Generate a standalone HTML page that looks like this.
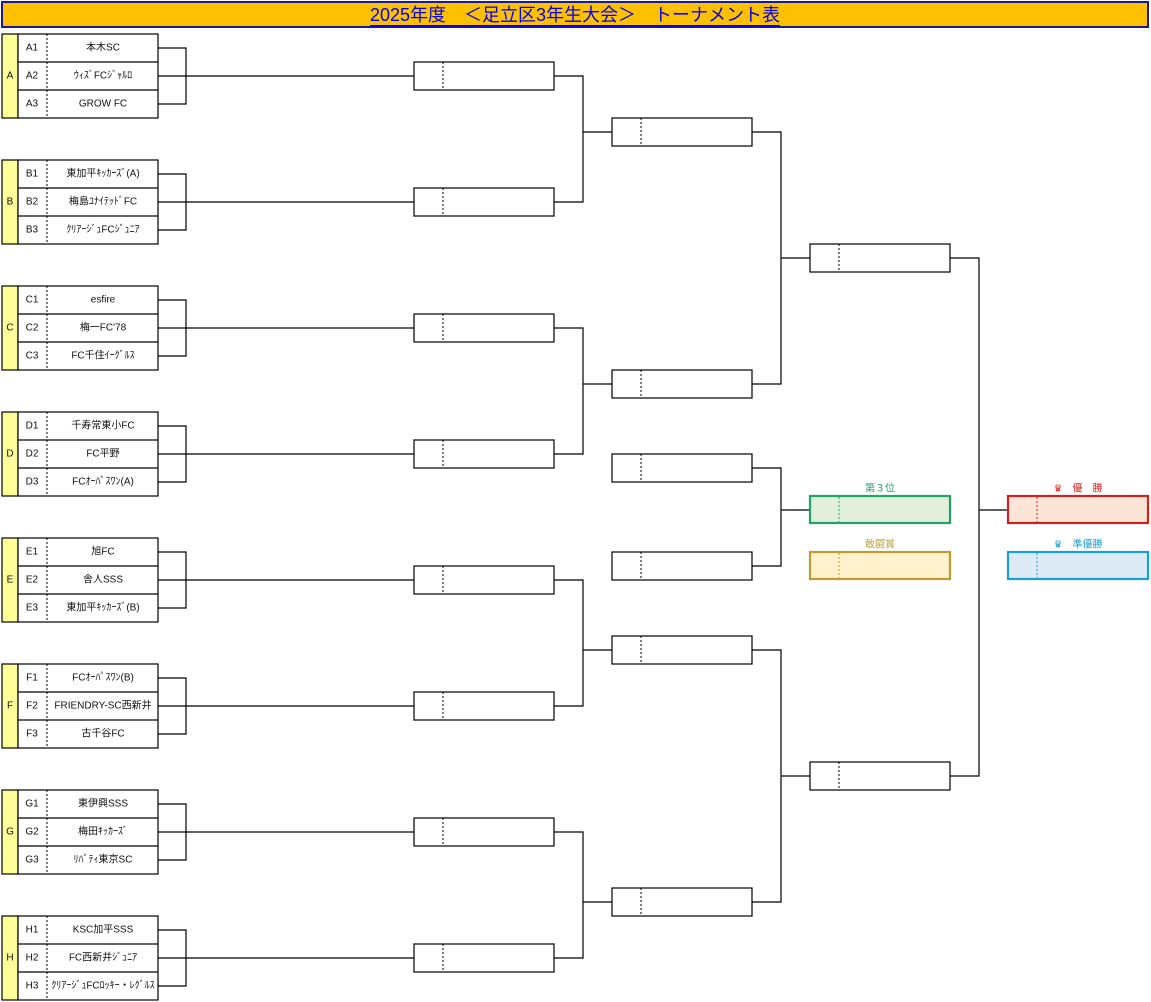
<!DOCTYPE html>
<html><head><meta charset="utf-8"><style>
body{margin:0;background:#fff;width:1151px;height:1002px;overflow:hidden}
svg{display:block;font-family:"Liberation Sans","Noto Sans CJK JP",sans-serif}
.t{font-size:10px;fill:#111;text-anchor:middle;dominant-baseline:central}
.ln{stroke:#000;stroke-width:1.2;fill:none}
.bx{fill:#fff;stroke:#000;stroke-width:1.2}
.dt{stroke:#000;stroke-width:1;stroke-dasharray:2,2}
</style></head><body>
<svg width="1151" height="1002" viewBox="0 0 1151 1002">
<rect x="2" y="2" width="1146" height="25" fill="#ffc000" stroke="#1a1a8c" stroke-width="2"/>
<text x="575" y="15" font-size="18" fill="#0000ee" text-anchor="middle" dominant-baseline="central" text-decoration="underline">2025年度　＜足立区3年生大会＞　トーナメント表</text>

<!-- group template -->
<g id="groups">
<!-- A y0=34 -->
<g transform="translate(0,34)">
<rect x="2" y="0" width="16" height="84" fill="#ffff99" stroke="#000" stroke-width="1.2"/>
<rect x="18" y="0" width="140" height="84" fill="#fff" stroke="#000" stroke-width="1.2"/>
<line x1="18" y1="28" x2="158" y2="28" class="ln"/><line x1="18" y1="56" x2="158" y2="56" class="ln"/>
<line x1="47" y1="0" x2="47" y2="84" class="dt"/>
<text class="t" x="10" y="42">A</text><text class="t" x="32" y="14">A1</text><text class="t" x="32" y="42">A2</text><text class="t" x="32" y="70">A3</text>
<text class="t" x="103" y="14">本木SC</text><text class="t" x="103" y="42">ｳｨｽﾞFCｼﾞｬﾙﾛ</text><text class="t" x="103" y="70">GROW FC</text>
<path class="ln" d="M158 14H186V70H158M158 42H414"/>
<rect class="bx" x="414" y="28" width="140" height="28"/><line class="dt" x1="443" y1="28" x2="443" y2="56"/>
</g>
<g transform="translate(0,160)">
<rect x="2" y="0" width="16" height="84" fill="#ffff99" stroke="#000" stroke-width="1.2"/>
<rect x="18" y="0" width="140" height="84" fill="#fff" stroke="#000" stroke-width="1.2"/>
<line x1="18" y1="28" x2="158" y2="28" class="ln"/><line x1="18" y1="56" x2="158" y2="56" class="ln"/>
<line x1="47" y1="0" x2="47" y2="84" class="dt"/>
<text class="t" x="10" y="42">B</text><text class="t" x="32" y="14">B1</text><text class="t" x="32" y="42">B2</text><text class="t" x="32" y="70">B3</text>
<text class="t" x="103" y="14">東加平ｷｯｶｰｽﾞ(A)</text><text class="t" x="103" y="42">梅島ﾕﾅｲﾃｯﾄﾞFC</text><text class="t" x="103" y="70" font-size="9">ｸﾘｱｰｼﾞｭFCｼﾞｭﾆｱ</text>
<path class="ln" d="M158 14H186V70H158M158 42H414"/>
<rect class="bx" x="414" y="28" width="140" height="28"/><line class="dt" x1="443" y1="28" x2="443" y2="56"/>
</g>
<g transform="translate(0,286)">
<rect x="2" y="0" width="16" height="84" fill="#ffff99" stroke="#000" stroke-width="1.2"/>
<rect x="18" y="0" width="140" height="84" fill="#fff" stroke="#000" stroke-width="1.2"/>
<line x1="18" y1="28" x2="158" y2="28" class="ln"/><line x1="18" y1="56" x2="158" y2="56" class="ln"/>
<line x1="47" y1="0" x2="47" y2="84" class="dt"/>
<text class="t" x="10" y="42">C</text><text class="t" x="32" y="14">C1</text><text class="t" x="32" y="42">C2</text><text class="t" x="32" y="70">C3</text>
<text class="t" x="103" y="14">esfire</text><text class="t" x="103" y="42">梅一FC'78</text><text class="t" x="103" y="70">FC千住ｲｰｸﾞﾙｽ</text>
<path class="ln" d="M158 14H186V70H158M158 42H414"/>
<rect class="bx" x="414" y="28" width="140" height="28"/><line class="dt" x1="443" y1="28" x2="443" y2="56"/>
</g>
<g transform="translate(0,412)">
<rect x="2" y="0" width="16" height="84" fill="#ffff99" stroke="#000" stroke-width="1.2"/>
<rect x="18" y="0" width="140" height="84" fill="#fff" stroke="#000" stroke-width="1.2"/>
<line x1="18" y1="28" x2="158" y2="28" class="ln"/><line x1="18" y1="56" x2="158" y2="56" class="ln"/>
<line x1="47" y1="0" x2="47" y2="84" class="dt"/>
<text class="t" x="10" y="42">D</text><text class="t" x="32" y="14">D1</text><text class="t" x="32" y="42">D2</text><text class="t" x="32" y="70">D3</text>
<text class="t" x="103" y="14">千寿常東小FC</text><text class="t" x="103" y="42">FC平野</text><text class="t" x="103" y="70">FCｵｰﾊﾟｽﾜﾝ(A)</text>
<path class="ln" d="M158 14H186V70H158M158 42H414"/>
<rect class="bx" x="414" y="28" width="140" height="28"/><line class="dt" x1="443" y1="28" x2="443" y2="56"/>
</g>
<g transform="translate(0,538)">
<rect x="2" y="0" width="16" height="84" fill="#ffff99" stroke="#000" stroke-width="1.2"/>
<rect x="18" y="0" width="140" height="84" fill="#fff" stroke="#000" stroke-width="1.2"/>
<line x1="18" y1="28" x2="158" y2="28" class="ln"/><line x1="18" y1="56" x2="158" y2="56" class="ln"/>
<line x1="47" y1="0" x2="47" y2="84" class="dt"/>
<text class="t" x="10" y="42">E</text><text class="t" x="32" y="14">E1</text><text class="t" x="32" y="42">E2</text><text class="t" x="32" y="70">E3</text>
<text class="t" x="103" y="14">旭FC</text><text class="t" x="103" y="42">舎人SSS</text><text class="t" x="103" y="70">東加平ｷｯｶｰｽﾞ(B)</text>
<path class="ln" d="M158 14H186V70H158M158 42H414"/>
<rect class="bx" x="414" y="28" width="140" height="28"/><line class="dt" x1="443" y1="28" x2="443" y2="56"/>
</g>
<g transform="translate(0,664)">
<rect x="2" y="0" width="16" height="84" fill="#ffff99" stroke="#000" stroke-width="1.2"/>
<rect x="18" y="0" width="140" height="84" fill="#fff" stroke="#000" stroke-width="1.2"/>
<line x1="18" y1="28" x2="158" y2="28" class="ln"/><line x1="18" y1="56" x2="158" y2="56" class="ln"/>
<line x1="47" y1="0" x2="47" y2="84" class="dt"/>
<text class="t" x="10" y="42">F</text><text class="t" x="32" y="14">F1</text><text class="t" x="32" y="42">F2</text><text class="t" x="32" y="70">F3</text>
<text class="t" x="103" y="14">FCｵｰﾊﾟｽﾜﾝ(B)</text><text class="t" x="103" y="42" font-size="9.5">FRIENDRY-SC西新井</text><text class="t" x="103" y="70">古千谷FC</text>
<path class="ln" d="M158 14H186V70H158M158 42H414"/>
<rect class="bx" x="414" y="28" width="140" height="28"/><line class="dt" x1="443" y1="28" x2="443" y2="56"/>
</g>
<g transform="translate(0,790)">
<rect x="2" y="0" width="16" height="84" fill="#ffff99" stroke="#000" stroke-width="1.2"/>
<rect x="18" y="0" width="140" height="84" fill="#fff" stroke="#000" stroke-width="1.2"/>
<line x1="18" y1="28" x2="158" y2="28" class="ln"/><line x1="18" y1="56" x2="158" y2="56" class="ln"/>
<line x1="47" y1="0" x2="47" y2="84" class="dt"/>
<text class="t" x="10" y="42">G</text><text class="t" x="32" y="14">G1</text><text class="t" x="32" y="42">G2</text><text class="t" x="32" y="70">G3</text>
<text class="t" x="103" y="14">東伊興SSS</text><text class="t" x="103" y="42">梅田ｷｯｶｰｽﾞ</text><text class="t" x="103" y="70">ﾘﾊﾞﾃｨ東京SC</text>
<path class="ln" d="M158 14H186V70H158M158 42H414"/>
<rect class="bx" x="414" y="28" width="140" height="28"/><line class="dt" x1="443" y1="28" x2="443" y2="56"/>
</g>
<g transform="translate(0,916)">
<rect x="2" y="0" width="16" height="84" fill="#ffff99" stroke="#000" stroke-width="1.2"/>
<rect x="18" y="0" width="140" height="84" fill="#fff" stroke="#000" stroke-width="1.2"/>
<line x1="18" y1="28" x2="158" y2="28" class="ln"/><line x1="18" y1="56" x2="158" y2="56" class="ln"/>
<line x1="47" y1="0" x2="47" y2="84" class="dt"/>
<text class="t" x="10" y="42">H</text><text class="t" x="32" y="14">H1</text><text class="t" x="32" y="42">H2</text><text class="t" x="32" y="70">H3</text>
<text class="t" x="103" y="14">KSC加平SSS</text><text class="t" x="103" y="42">FC西新井ｼﾞｭﾆｱ</text><text class="t" x="103" y="70" font-size="8.5">ｸﾘｱｰｼﾞｭFCﾛｯｷｰ・ﾚｸﾞﾙｽ</text>
<path class="ln" d="M158 14H186V70H158M158 42H414"/>
<rect class="bx" x="414" y="28" width="140" height="28"/><line class="dt" x1="443" y1="28" x2="443" y2="56"/>
</g>
</g>

<!-- round 2 connectors -->
<path class="ln" d="M554 76H583V202H554M583 132H612"/>
<path class="ln" d="M554 328H583V454H554M583 384H612"/>
<path class="ln" d="M554 580H583V706H554M583 650H612"/>
<path class="ln" d="M554 832H583V958H554M583 902H612"/>
<!-- round 2 boxes -->
<rect class="bx" x="612" y="118" width="140" height="28"/><line class="dt" x1="641" y1="118" x2="641" y2="146"/>
<rect class="bx" x="612" y="370" width="140" height="28"/><line class="dt" x1="641" y1="370" x2="641" y2="398"/>
<rect class="bx" x="612" y="636" width="140" height="28"/><line class="dt" x1="641" y1="636" x2="641" y2="664"/>
<rect class="bx" x="612" y="888" width="140" height="28"/><line class="dt" x1="641" y1="888" x2="641" y2="916"/>
<!-- 3rd place semis -->
<rect class="bx" x="612" y="454" width="140" height="28"/><line class="dt" x1="641" y1="454" x2="641" y2="482"/>
<rect class="bx" x="612" y="552" width="140" height="28"/><line class="dt" x1="641" y1="552" x2="641" y2="580"/>
<path class="ln" d="M752 468H781V566H752M781 510H810"/>
<!-- round 3 -->
<path class="ln" d="M752 132H781V384H752M781 258H810"/>
<path class="ln" d="M752 650H781V902H752M781 776H810"/>
<rect class="bx" x="810" y="244" width="140" height="28"/><line class="dt" x1="839" y1="244" x2="839" y2="272"/>
<rect class="bx" x="810" y="762" width="140" height="28"/><line class="dt" x1="839" y1="762" x2="839" y2="790"/>
<path class="ln" d="M950 258H979V776H950M979 510H1008"/>

<!-- awards -->
<text x="880" y="489" font-size="10" fill="#21a366" text-anchor="middle" dominant-baseline="central">第３位</text>
<rect x="810" y="496" width="140" height="27" fill="#e2efda" stroke="#21a366" stroke-width="2.2"/>
<line x1="839" y1="497" x2="839" y2="522" stroke="#21a366" stroke-dasharray="2,2"/>
<text x="880" y="545" font-size="10" fill="#c0a040" text-anchor="middle" dominant-baseline="central">敢闘賞</text>
<rect x="810" y="552" width="140" height="27" fill="#fff2cc" stroke="#bf9b30" stroke-width="2.2"/>
<line x1="839" y1="553" x2="839" y2="578" stroke="#bf9b30" stroke-dasharray="2,2"/>

<text x="1078" y="489" font-size="10" fill="#e02020" text-anchor="middle" dominant-baseline="central">♛　優　勝</text>
<rect x="1008" y="496" width="140" height="27" fill="#fce4d6" stroke="#cc2222" stroke-width="2.2"/>
<line x1="1037" y1="497" x2="1037" y2="522" stroke="#cc2222" stroke-dasharray="2,2"/>
<text x="1078" y="545" font-size="10" fill="#1a9fd8" text-anchor="middle" dominant-baseline="central">♛　準優勝</text>
<rect x="1008" y="552" width="140" height="27" fill="#ddebf7" stroke="#1aa0d8" stroke-width="2.2"/>
<line x1="1037" y1="553" x2="1037" y2="578" stroke="#1aa0d8" stroke-dasharray="2,2"/>
</svg>
</body></html>
